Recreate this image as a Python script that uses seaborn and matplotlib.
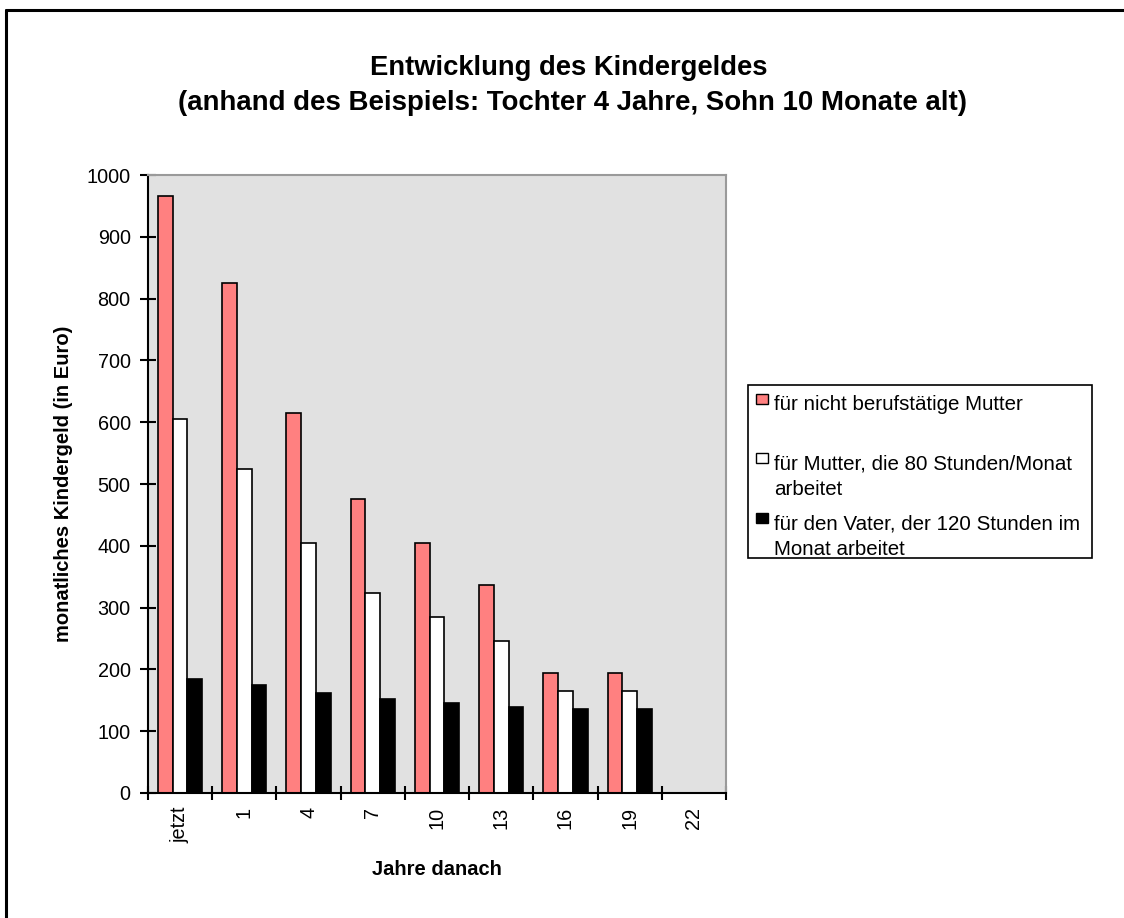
import numpy as np
import pandas as pd
import matplotlib
matplotlib.use("Agg")
import matplotlib.pyplot as plt
from matplotlib.lines import Line2D
from matplotlib.patches import Rectangle
import seaborn as sns

# values (monthly amount in euro)
categories = ["jetzt", "1", "4", "7", "10", "13", "16", "19", "22"]
nicht_berufstaetig = [966, 826, 615, 476, 405, 337, 194, 194, np.nan]
mutter_80h = [605, 525, 404, 324, 285, 246, 165, 165, np.nan]
vater_120h = [185, 175, 162, 152, 146, 139, 136, 136, np.nan]

series_names = ["nicht", "mutter", "vater"]
legend_lines = [
    ["für nicht berufstätige Mutter"],
    ["für Mutter, die 80 Stunden/Monat", "arbeitet"],
    ["für den Vater, der 120 Stunden im", "Monat arbeitet"],
]
colors = ["#FF8080", "#FFFFFF", "#000000"]

W, H = 1124, 918


def fx(px):
    return px / W


def fy(py):
    return 1 - py / H


frame = pd.DataFrame({
    "Jahr": categories,
    "nicht": nicht_berufstaetig,
    "mutter": mutter_80h,
    "vater": vater_120h,
})
long = frame.melt(id_vars="Jahr", var_name="Gruppe", value_name="Betrag").dropna()

sns.set_style("white")
plt.rcParams["font.family"] = ["Liberation Sans", "DejaVu Sans"]
plt.rcParams["text.color"] = "black"
plt.rcParams["axes.labelcolor"] = "black"

fig = plt.figure(figsize=(W / 100, H / 100), dpi=100)
ax = fig.add_axes([fx(148), fy(793), fx(726) - fx(148), fy(175) - fy(793)])
ax.set_facecolor("#E1E1E1")

sns.barplot(
    data=long,
    x="Jahr",
    y="Betrag",
    hue="Gruppe",
    order=categories,
    hue_order=series_names,
    palette=colors,
    saturation=1,
    edgecolor="black",
    linewidth=1.2,
    width=0.69,
    errorbar=None,
    legend=False,
    ax=ax,
)

ax.set_xlim(-0.5, len(categories) - 0.5)
ax.set_ylim(0, 1000)
ax.set_yticks(range(0, 1001, 100))
ax.tick_params(axis="y", left=True, direction="inout", length=11, width=1.5,
               labelsize=14.3, pad=7, colors="black")

# category labels at centres, tick marks at the boundaries
ax.set_xticks(range(len(categories)))
ax.set_xticklabels(categories, rotation=90)
ax.set_xticks(np.arange(-0.5, len(categories)), minor=True)
ax.tick_params(axis="x", which="major", bottom=True, length=0, labelsize=14.3,
               pad=10, colors="black")
ax.tick_params(axis="x", which="minor", bottom=True, direction="inout", length=9.5,
               width=1.5, colors="black")

for side in ["left", "bottom"]:
    ax.spines[side].set_color("black")
    ax.spines[side].set_linewidth(1.5)
for side in ["top", "right"]:
    ax.spines[side].set_visible(True)
    ax.spines[side].set_color("#9A9A9A")
    ax.spines[side].set_linewidth(1.5)

ax.set_xlabel("Jahre danach", fontsize=14.5, fontweight="bold", labelpad=12)
ax.set_ylabel("monatliches Kindergeld (in Euro)", fontsize=14.5, fontweight="bold", labelpad=10)

fig.text(fx(569), fy(75), "Entwicklung des Kindergeldes",
         ha="center", va="baseline", fontsize=19.7, fontweight="bold")
fig.text(fx(572), fy(110), "(anhand des Beispiels: Tochter 4 Jahre, Sohn 10 Monate alt)",
         ha="center", va="baseline", fontsize=19.9, fontweight="bold")

# legend box drawn by hand so the markers sit on the first text line
fig.add_artist(Rectangle((fx(748), fy(558)), fx(1092) - fx(748), fy(385) - fy(558),
                         transform=fig.transFigure, facecolor="white",
                         edgecolor="black", linewidth=1.2))
baselines = [[410], [469, 495], [529, 555]]
for lines, base, color in zip(legend_lines, baselines, colors):
    fig.add_artist(Rectangle((fx(756), fy(base[0] - 6)), fx(12), 10 / H,
                             transform=fig.transFigure, facecolor=color,
                             edgecolor="black", linewidth=1.0))
    for text, y in zip(lines, base):
        fig.text(fx(774), fy(y), text, ha="left", va="baseline", fontsize=14.8)

# outer chart frame (left and top edge)
fig.add_artist(Line2D([fx(5.5), fx(5.5)], [0, fy(9.5)], transform=fig.transFigure,
                      color="black", linewidth=2.2))
fig.add_artist(Line2D([fx(5.5), 1], [fy(9.5), fy(9.5)], transform=fig.transFigure,
                      color="black", linewidth=2.2))

fig.savefig("out.png", dpi=100)
